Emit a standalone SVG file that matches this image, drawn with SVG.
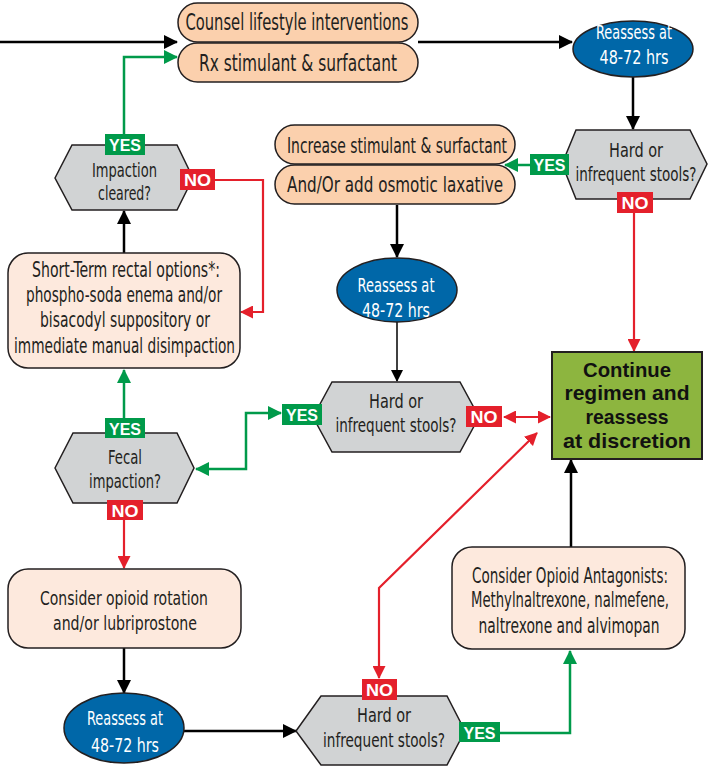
<svg xmlns="http://www.w3.org/2000/svg" width="710" height="766" viewBox="0 0 710 766">
<style>
.t{font-family:"Liberation Sans Narrow","DejaVu Sans Condensed","Liberation Sans",sans-serif;fill:#231f20;text-anchor:middle}
.w{font-family:"Liberation Sans Narrow","DejaVu Sans Condensed","Liberation Sans",sans-serif;fill:#fff;text-anchor:middle;font-size:19px}
.b{font-family:"Liberation Sans","DejaVu Sans",sans-serif;font-weight:bold;fill:#111;text-anchor:middle;font-size:21px}
.lbl{font-family:"Liberation Sans","DejaVu Sans",sans-serif;font-weight:bold;fill:#fff;text-anchor:middle;font-size:17px}
.pill{fill:#fbd0ad;stroke:#231f20;stroke-width:1.5}
.box{fill:#fde9dd;stroke:#231f20;stroke-width:1.5}
.hex{fill:#d1d3d4;stroke:#231f20;stroke-width:1.5}
.ell{fill:#0067a8;stroke:#231f20;stroke-width:1.5}
.k{fill:none;stroke:#000;stroke-width:2.5}
.g{fill:none;stroke:#009a4a;stroke-width:2.5}
.r{fill:none;stroke:#e4202b;stroke-width:2.2}
.gy{fill:#009a4a}
.rn{fill:#e4202b}
</style>
<defs>
<marker id="ak" viewBox="0 0 14 14" refX="13" refY="7" markerWidth="14" markerHeight="14" markerUnits="userSpaceOnUse" orient="auto-start-reverse"><path d="M0,0 L14,7 L0,14 z" fill="#000"/></marker>
<marker id="aks" viewBox="0 0 12 12" refX="11" refY="6" markerWidth="12" markerHeight="12" markerUnits="userSpaceOnUse" orient="auto-start-reverse"><path d="M0,0 L12,6 L0,12 z" fill="#000"/></marker>
<marker id="ag" viewBox="0 0 14 14" refX="13" refY="7" markerWidth="14" markerHeight="14" markerUnits="userSpaceOnUse" orient="auto-start-reverse"><path d="M0,0 L14,7 L0,14 z" fill="#009a4a"/></marker>
<marker id="ar" viewBox="0 0 13 13" refX="12" refY="6.5" markerWidth="13" markerHeight="13" markerUnits="userSpaceOnUse" orient="auto-start-reverse"><path d="M0,0 L13,6.5 L0,13 z" fill="#e4202b"/></marker>
</defs>

<g id="connectors">
<path class="k" d="M0,42 H177" marker-end="url(#ak)"/>
<path class="g" d="M124,134 V57 H177" marker-end="url(#ag)"/>
<path class="k" d="M418,42 H572" marker-end="url(#ak)"/>
<path class="k" d="M633,77 V129" marker-end="url(#ak)"/>
<path class="g" d="M530,165 H505" marker-end="url(#ag)"/>
<path class="r" d="M634,213 V351" marker-end="url(#ar)"/>
<path class="k" d="M397,205 V257" marker-end="url(#ak)"/>
<path class="k" style="stroke-width:1.5" d="M397,322 V381" marker-end="url(#aks)"/>
<path class="g" d="M281,413 H246 V469 H196" marker-start="url(#ag)" marker-end="url(#ag)"/>
<path class="r" d="M504,417 H550" marker-start="url(#ar)" marker-end="url(#ar)"/>
<path class="r" d="M379,678 V588 L537,433" marker-start="url(#ar)" marker-end="url(#ar)"/>
<path class="g" d="M500,733 H570 V651" marker-end="url(#ag)"/>
<path class="k" d="M571,547 V460" marker-end="url(#ak)"/>
<path class="r" d="M215,180 H263 V312 H241" marker-end="url(#ar)"/>
<path class="k" d="M124,253 V211" marker-end="url(#ak)"/>
<path class="g" d="M124,418 V370" marker-end="url(#ag)"/>
<path class="r" d="M124,520 V568" marker-end="url(#ar)"/>
<path class="k" d="M124,648 V693" marker-end="url(#ak)"/>
<path class="k" d="M184,731 H296" marker-end="url(#ak)"/>
</g>

<g id="n-counsel">
<rect class="pill" x="178" y="3" width="240" height="39" rx="19.5"/>
<text class="t" x="297" y="30" font-size="23" textLength="223" lengthAdjust="spacingAndGlyphs">Counsel lifestyle interventions</text>
</g>
<g id="n-rx">
<rect class="pill" x="178" y="43" width="240" height="39" rx="19.5"/>
<text class="t" x="298" y="71" font-size="23" textLength="198" lengthAdjust="spacingAndGlyphs">Rx stimulant &amp; surfactant</text>
</g>
<g id="n-reassess1">
<ellipse class="ell" cx="633" cy="49" rx="60" ry="28"/>
<text class="w" x="634" y="39" textLength="76" lengthAdjust="spacingAndGlyphs">Reassess at</text>
<text class="w" x="634" y="64" textLength="69" lengthAdjust="spacingAndGlyphs">48-72 hrs</text>
</g>
<g id="n-hard1">
<polygon class="hex" points="562,164 576,130 690,130 707,164 690,199 576,199"/>
<text class="t" x="636" y="157" font-size="20" textLength="54" lengthAdjust="spacingAndGlyphs">Hard or</text>
<text class="t" x="636" y="181" font-size="20" textLength="121" lengthAdjust="spacingAndGlyphs">infrequent stools?</text>
</g>
<g id="n-increase">
<rect class="pill" x="275" y="125" width="240" height="39" rx="19.5"/>
<text class="t" x="397" y="153" font-size="22" textLength="220" lengthAdjust="spacingAndGlyphs">Increase stimulant &amp; surfactant</text>
</g>
<g id="n-osmotic">
<rect class="pill" x="275" y="165" width="240" height="39" rx="19.5"/>
<text class="t" x="395" y="192" font-size="22" textLength="216" lengthAdjust="spacingAndGlyphs">And/Or add osmotic laxative</text>
</g>
<g id="n-reassess2">
<ellipse class="ell" cx="397" cy="290" rx="60" ry="32"/>
<text class="w" x="396" y="292" textLength="77" lengthAdjust="spacingAndGlyphs">Reassess at</text>
<text class="w" x="396" y="317" textLength="68" lengthAdjust="spacingAndGlyphs">48-72 hrs</text>
</g>
<g id="n-hard2">
<polygon class="hex" points="313,417 332,382 460,382 479,417 460,452 332,452"/>
<text class="t" x="396" y="408" font-size="20" textLength="54" lengthAdjust="spacingAndGlyphs">Hard or</text>
<text class="t" x="396" y="432" font-size="20" textLength="121" lengthAdjust="spacingAndGlyphs">infrequent stools?</text>
</g>
<g id="n-continue">
<rect x="552" y="352" width="150" height="107" fill="#8db53f" stroke="#231f20" stroke-width="2"/>
<text class="b" x="627" y="377" textLength="88" lengthAdjust="spacingAndGlyphs">Continue</text>
<text class="b" x="627" y="400" textLength="125" lengthAdjust="spacingAndGlyphs">regimen and</text>
<text class="b" x="627" y="424" textLength="83" lengthAdjust="spacingAndGlyphs">reassess</text>
<text class="b" x="627" y="448" textLength="128" lengthAdjust="spacingAndGlyphs">at discretion</text>
</g>
<g id="n-antagonists">
<rect class="box" x="452" y="547" width="233" height="102" rx="20"/>
<text class="t" x="570" y="583" font-size="21" textLength="196" lengthAdjust="spacingAndGlyphs">Consider Opioid Antagonists:</text>
<text class="t" x="570" y="607" font-size="21" textLength="198" lengthAdjust="spacingAndGlyphs">Methylnaltrexone, nalmefene,</text>
<text class="t" x="569" y="633" font-size="21" textLength="181" lengthAdjust="spacingAndGlyphs">naltrexone and alvimopan</text>
</g>
<g id="n-hard3">
<polygon class="hex" points="296,731 321,696 447,696 465,731 447,765 321,765"/>
<text class="t" x="384" y="722" font-size="20" textLength="54" lengthAdjust="spacingAndGlyphs">Hard or</text>
<text class="t" x="384" y="747" font-size="20" textLength="122" lengthAdjust="spacingAndGlyphs">infrequent stools?</text>
</g>
<g id="n-reassess3">
<ellipse class="ell" cx="124" cy="728" rx="60" ry="35"/>
<text class="w" x="125" y="725" textLength="76" lengthAdjust="spacingAndGlyphs">Reassess at</text>
<text class="w" x="125" y="752" textLength="68" lengthAdjust="spacingAndGlyphs">48-72 hrs</text>
</g>
<g id="n-rotation">
<rect class="box" x="8" y="569" width="233" height="79" rx="20"/>
<text class="t" x="124" y="605" font-size="20" textLength="168" lengthAdjust="spacingAndGlyphs">Consider opioid rotation</text>
<text class="t" x="125" y="630" font-size="20" textLength="144" lengthAdjust="spacingAndGlyphs">and/or lubriprostone</text>
</g>
<g id="n-fecal">
<polygon class="hex" points="55,468 73,433 177,433 194,468 177,503 73,503"/>
<text class="t" x="125" y="464" font-size="20" textLength="34" lengthAdjust="spacingAndGlyphs">Fecal</text>
<text class="t" x="125" y="488" font-size="20" textLength="72" lengthAdjust="spacingAndGlyphs">impaction?</text>
</g>
<g id="n-shortterm">
<rect class="box" x="8" y="253" width="232" height="115" rx="20"/>
<text class="t" x="126" y="277" font-size="21" textLength="188" lengthAdjust="spacingAndGlyphs">Short-Term rectal options*:</text>
<text class="t" x="124" y="302" font-size="21" textLength="196" lengthAdjust="spacingAndGlyphs">phospho-soda enema and/or</text>
<text class="t" x="125" y="327" font-size="21" textLength="170" lengthAdjust="spacingAndGlyphs">bisacodyl suppository or</text>
<text class="t" x="124.5" y="353" font-size="21" textLength="221" lengthAdjust="spacingAndGlyphs">immediate manual disimpaction</text>
</g>
<g id="n-impaction">
<polygon class="hex" points="55,178 72,145 177,145 193,178 177,210 72,210"/>
<text class="t" x="124.5" y="177" font-size="20" textLength="65" lengthAdjust="spacingAndGlyphs">Impaction</text>
<text class="t" x="124.5" y="200" font-size="20" textLength="53" lengthAdjust="spacingAndGlyphs">cleared?</text>
</g>

<g id="labels">
<rect class="gy" x="105" y="134" width="40" height="21"/><text class="lbl" x="125" y="151" textLength="32" lengthAdjust="spacingAndGlyphs">YES</text>
<rect class="rn" x="180" y="169" width="35" height="21"/><text class="lbl" x="197.5" y="186" textLength="27" lengthAdjust="spacingAndGlyphs">NO</text>
<rect class="gy" x="530" y="154" width="39" height="21"/><text class="lbl" x="549.5" y="171" textLength="32" lengthAdjust="spacingAndGlyphs">YES</text>
<rect class="rn" x="617" y="192" width="36" height="21"/><text class="lbl" x="635" y="209" textLength="27" lengthAdjust="spacingAndGlyphs">NO</text>
<rect class="gy" x="282" y="404" width="40" height="21"/><text class="lbl" x="302" y="421" textLength="32" lengthAdjust="spacingAndGlyphs">YES</text>
<rect class="rn" x="466" y="406" width="36" height="21"/><text class="lbl" x="484" y="423" textLength="27" lengthAdjust="spacingAndGlyphs">NO</text>
<rect class="gy" x="105" y="418" width="40" height="20"/><text class="lbl" x="125" y="434.5" textLength="32" lengthAdjust="spacingAndGlyphs">YES</text>
<rect class="rn" x="107" y="500" width="36" height="20"/><text class="lbl" x="125" y="516.5" textLength="27" lengthAdjust="spacingAndGlyphs">NO</text>
<rect class="rn" x="362" y="679" width="35" height="21"/><text class="lbl" x="379.5" y="696" textLength="27" lengthAdjust="spacingAndGlyphs">NO</text>
<rect class="gy" x="459" y="722" width="41" height="20"/><text class="lbl" x="479.5" y="738.5" textLength="32" lengthAdjust="spacingAndGlyphs">YES</text>
</g>
</svg>
